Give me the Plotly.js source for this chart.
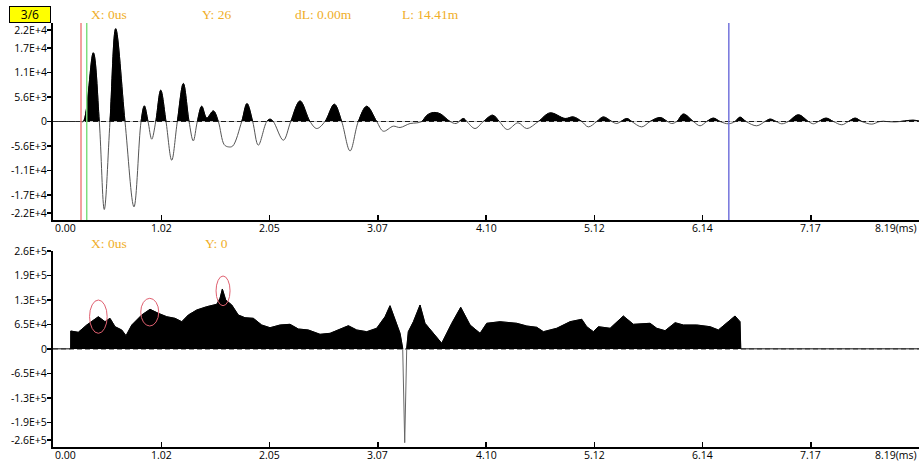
<!DOCTYPE html>
<html>
<head>
<meta charset="utf-8">
<script src="https://cdn.plot.ly/plotly-3.0.1.min.js"></script>
<style>html,body{margin:0;padding:0;background:#fff;}#chart{width:920px;height:463px;}</style>
</head>
<body>
<div id="chart"></div>
<script>
// ---- data: top waveform (time ms, amplitude) ----
const waveT = [0,0.15,0.26,0.287,0.381,0.438,0.485,0.539,0.593,0.681,0.766,0.833,0.864,0.899,0.934,0.972,1.019,1.069,1.123,1.176,1.233,1.287,1.327,1.365,1.407,1.454,1.517,1.564,1.62,1.66,1.70,1.785,1.835,1.889,1.942,2.022,2.053,2.084,2.179,2.249,2.337,2.431,2.495,2.573,2.661,2.731,2.810,2.888,2.968,3.062,3.125,3.219,3.283,3.378,3.441,3.488,3.538,3.598,3.661,3.756,3.813,3.882,3.914,3.992,4.071,4.160,4.222,4.298,4.399,4.481,4.591,4.702,4.844,4.922,5.002,5.064,5.144,5.206,5.286,5.333,5.428,5.475,5.569,5.648,5.743,5.812,5.853,5.901,5.963,6.058,6.121,6.184,6.247,6.310,6.389,6.452,6.499,6.556,6.657,6.736,6.783,6.840,6.894,6.956,7.051,7.146,7.193,7.241,7.313,7.382,7.462,7.524,7.588,7.651,7.746,7.824,7.966,8.136,8.192];
const waveV = [0,0,0,0,15700,0,-20100,0,21200,0,-19500,0,3560,0,-4040,0,7150,0,-8840,0,8680,0,-4430,0,3490,820,2420,0,-5300,-5800,-5600,0,4110,0,-5410,0,525,0,-4270,0,4700,0,-1600,0,3950,0,-6710,0,3490,0,-2215,-1070,-1370,-457,-320,0,1440,2056,1780,0,-457,685,0,-1600,0,1440,0,-1830,-300,-1600,0,1960,685,1050,0,-1230,0,1050,0,-457,685,0,-1230,0,914,0,-457,0,1700,0,-980,0,775,0,-525,0,1000,0,-980,0,550,0,-525,0,1530,0,-525,0,775,0,-750,0,775,0,-600,0,-100,300,100];

// ---- data: bottom envelope (time ms, amplitude) ----
const envT = [0,0.167,0.168,0.239,0.319,0.429,0.492,0.539,0.587,0.650,0.691,0.745,0.839,0.918,0.996,1.076,1.154,1.218,1.280,1.360,1.454,1.549,1.580,1.602,1.634,1.691,1.753,1.816,1.895,1.974,2.053,2.148,2.242,2.321,2.415,2.463,2.526,2.621,2.731,2.794,2.873,2.968,3.062,3.141,3.188,3.236,3.283,3.308,3.327,3.346,3.361,3.409,3.472,3.519,3.598,3.677,3.772,3.857,3.945,4.002,4.040,4.103,4.229,4.387,4.482,4.576,4.639,4.765,4.891,5.002,5.049,5.112,5.159,5.270,5.395,5.490,5.648,5.711,5.790,5.885,5.963,6.090,6.216,6.294,6.374,6.452,6.499,6.506,8.192];
const envV = [0,0,47600,44200,63500,85400,72200,81200,59000,50300,35200,63500,89900,105000,94400,85400,81200,72200,89900,103200,111900,118200,134100,158700,129600,116400,89900,82800,81200,63500,56300,63500,65300,52900,50300,45800,38900,41500,54800,61600,50300,45800,54800,85400,114500,76700,41500,2000,-247800,2600,45800,72200,116400,68000,41500,15100,68000,110300,63500,50300,41500,68000,72200,68000,60800,57400,45800,54800,72200,78600,59000,45800,59000,54800,87300,65300,68000,54800,48400,69600,63500,63500,59000,50300,68000,87300,72200,0,0];

// ---- ticks, labels, readouts, cursors ----
const xTickVals = [0,1.024,2.048,3.072,4.096,5.12,6.144,7.168,8.192];
const xTickText = ['0.00','1.02','2.05','3.07','4.10','5.12','6.14','7.17','8.19(ms)'];
const topYTickVals = [-20900,-16800,-11200,-5600,0,5600,11200,16800,20900];
const topYTickText = ['-2.2E+4','-1.7E+4','-1.1E+4','-5.6E+3','0','5.6E+3','1.1E+4','1.7E+4','2.2E+4'];
const botYTickVals = [-240700,-195000,-130000,-65000,0,65000,130000,195000,259000];
const botYTickText = ['-2.6E+5','-1.9E+5','-1.3E+5','-6.5E+4','0','6.5E+4','1.3E+5','1.9E+5','2.6E+5'];
const topReadout = ['X: 0us','Y: 26','dL: 0.00m','L: 14.41m'];
const botReadout = ['X: 0us','Y: 0'];
const pageLabel = '3/6';
const cursorT = [0.265, 0.319, 6.393];
const cursorColors = ['#f08080','#7ede7e','#7474dc'];
const highlightT = [0.429, 0.918, 1.602];

// ---- layout geometry ----
const W = 920, H = 463;
const py = p => 1 - p / H;
const xDom = [53 / W, 919 / W];
const topDom = [py(220), py(23)];
const botDom = [py(447.3), py(250.7)];
const topR = 22500, botR = 260000;
const topMid = (topDom[0] + topDom[1]) / 2;
const botMid = (botDom[0] + botDom[1]) / 2;

const tickFont = {family: 'Open Sans, sans-serif', size: 10.5, color: '#000'};
const readFont = {family: 'Liberation Serif, serif', size: 13.5, color: '#f0ae28'};

const traces = [
  {x: waveT, y: waveV, xaxis: 'x', yaxis: 'y', type: 'scatter', mode: 'lines',
   line: {color: '#555', width: 1, shape: 'spline', smoothing: 1}, hoverinfo: 'skip'},
  {x: waveT, y: waveV, xaxis: 'x', yaxis: 'y3', type: 'scatter', mode: 'lines', fill: 'tozeroy',
   fillcolor: '#000', line: {color: '#000', width: 1, shape: 'spline', smoothing: 1}, hoverinfo: 'skip'},
  {x: envT, y: envV, xaxis: 'x2', yaxis: 'y2', type: 'scatter', mode: 'lines',
   line: {color: '#666', width: 1}, hoverinfo: 'skip'},
  {x: envT, y: envV, xaxis: 'x2', yaxis: 'y4', type: 'scatter', mode: 'lines', fill: 'tozeroy',
   fillcolor: '#000', line: {color: '#000', width: 1}, hoverinfo: 'skip'}
];

const xAxisBase = {domain: xDom, range: [0, 8.192], showgrid: false, zeroline: false,
  showline: true, linecolor: '#000', linewidth: 2, ticks: 'inside', ticklen: 5, tickwidth: 1.5,
  tickcolor: '#000', tickmode: 'array', tickvals: xTickVals, showticklabels: false,
  automargin: false, fixedrange: true};
const yAxisBase = {showgrid: false, zeroline: false, showline: true, linecolor: '#000', linewidth: 2,
  ticks: 'outside', ticklen: 4, tickwidth: 1.5, tickcolor: '#000', tickmode: 'array',
  tickfont: tickFont, automargin: false, fixedrange: true, ticklabelstandoff: -2};

const shapes = [];
// dashed zero lines
[['x','y'],['x2','y2']].forEach(([xr, yr]) => {
  shapes.push({type: 'line', xref: xr + ' domain', yref: yr, x0: 0, x1: 1, y0: 0, y1: 0,
    line: {color: '#222', width: 1, dash: '5px,3px'}, layer: 'below'});
});
// cursors
cursorT.forEach((t, i) => {
  shapes.push({type: 'line', xref: 'x', yref: 'y domain', x0: t, x1: t, y0: 0, y1: 1,
    line: {color: cursorColors[i], width: 1.5}});
});
// highlight ellipses on envelope peaks
const ellipse = [[-8.8, 8.8, -16.6, 16.7], [-9.3, 8.7, -16.7, 11], [-6.3, 7.7, -16.7, 13]];
highlightT.forEach((t, i) => {
  const idx = envT.indexOf(t);
  const e = ellipse[i];
  shapes.push({type: 'circle', xref: 'x2', yref: 'y2', xsizemode: 'pixel', ysizemode: 'pixel',
    xanchor: t, yanchor: envV[idx], x0: e[0], x1: e[1], y0: e[2], y1: e[3],
    line: {color: '#e06070', width: 1}});
});

const annotations = [];
// x tick labels
[['x', topDom[0]], ['x2', botDom[0]]].forEach(([xr, yb]) => {
  xTickVals.forEach((v, i) => {
    annotations.push({xref: xr, yref: 'paper', x: v, y: yb, yanchor: 'top', yshift: 1,
      xanchor: i === 0 ? 'left' : (i === xTickVals.length - 1 ? 'right' : 'center'),
      text: xTickText[i], showarrow: false, font: tickFont});
  });
});
// readouts
const topReadX = [89, 200, 293, 400];
topReadout.forEach((s, i) => annotations.push({xref: 'paper', yref: 'paper', x: topReadX[i] / W, y: py(15),
  xanchor: 'left', yanchor: 'middle', text: s, showarrow: false, font: readFont}));
const botReadX = [89, 203];
botReadout.forEach((s, i) => annotations.push({xref: 'paper', yref: 'paper', x: botReadX[i] / W, y: py(243),
  xanchor: 'left', yanchor: 'middle', text: s, showarrow: false, font: readFont}));
// page badge
annotations.push({xref: 'paper', yref: 'paper', x: 29.5 / W, y: py(15), xanchor: 'center', yanchor: 'middle',
  text: pageLabel, showarrow: false, bgcolor: '#ffff00', bordercolor: '#000', borderwidth: 1, borderpad: 1,
  width: 38, height: 13, font: {family: 'Open Sans, sans-serif', size: 12, color: '#000'}});

const layout = {
  width: W, height: H, margin: {l: 0, r: 0, t: 0, b: 0}, paper_bgcolor: '#fff', plot_bgcolor: 'rgba(0,0,0,0)',
  showlegend: false,
  xaxis: Object.assign({}, xAxisBase, {anchor: 'y'}),
  xaxis2: Object.assign({}, xAxisBase, {anchor: 'y2'}),
  yaxis: Object.assign({}, yAxisBase, {domain: topDom, range: [-topR, topR], anchor: 'x',
    tickvals: topYTickVals, ticktext: topYTickText}),
  yaxis2: Object.assign({}, yAxisBase, {domain: botDom, range: [-botR, botR], anchor: 'x2',
    tickvals: botYTickVals, ticktext: botYTickText}),
  yaxis3: {domain: [topMid, topDom[1]], range: [0, topR], anchor: 'x', visible: false, fixedrange: true},
  yaxis4: {domain: [botMid, botDom[1]], range: [0, botR], anchor: 'x2', visible: false, fixedrange: true},
  shapes: shapes, annotations: annotations
};

Plotly.newPlot('chart', traces, layout, {displayModeBar: false, staticPlot: true});
</script>
</body>
</html>
